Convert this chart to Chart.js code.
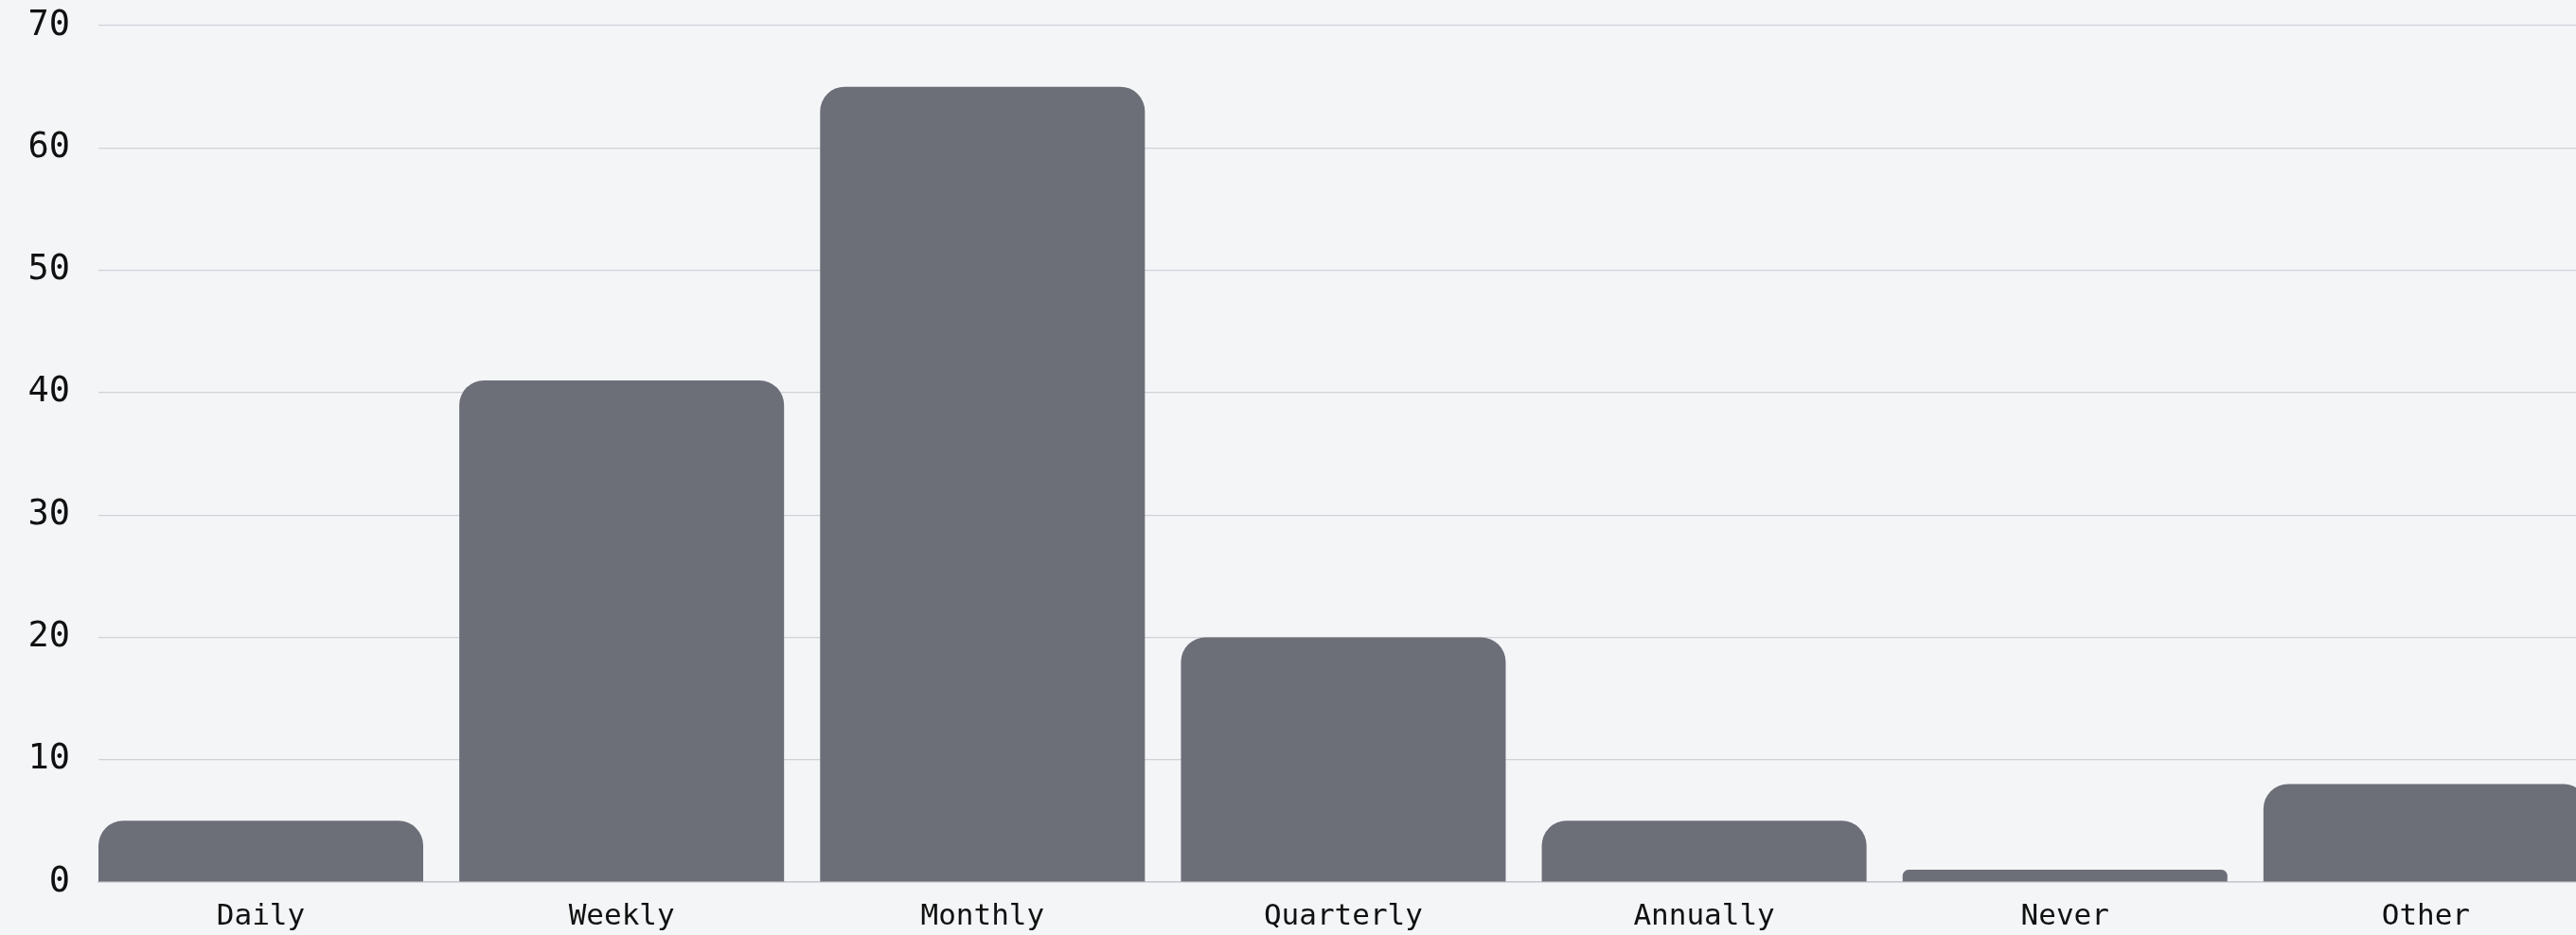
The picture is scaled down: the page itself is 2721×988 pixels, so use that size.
<!DOCTYPE html>
<html>
<head>
<meta charset="utf-8">
<script src="https://cdn.jsdelivr.net/npm/chart.js@4/dist/chart.umd.min.js"></script>
<style>
  html, body { margin: 0; padding: 0; background: #f4f5f7; overflow: hidden; }
  #wrap { position: relative; width: 2772px; height: 988px; }
</style>
</head>
<body>
<div id="wrap"><canvas id="c"></canvas></div>
<script>
const categories = ["Daily", "Weekly", "Monthly", "Quarterly", "Annually", "Never", "Other"];
const counts = [5, 41, 65, 20, 5, 1, 8];
const yTicks = [0, 10, 20, 30, 40, 50, 60, 70];

const points = counts.map((v, i) => ({ x: i, y: v }));

new Chart(document.getElementById('c'), {
  type: 'bar',
  data: {
    datasets: [{
      data: points,
      backgroundColor: '#6c6e78',
      borderRadius: 26,
      borderSkipped: 'start',
      barPercentage: 0.9,
      categoryPercentage: 1.0
    }]
  },
  options: {
    responsive: true,
    maintainAspectRatio: false,
    animation: false,
    layout: { padding: { top: 27, left: 0, right: 0, bottom: 0 } },
    plugins: { legend: { display: false }, tooltip: { enabled: false } },
    scales: {
      x: {
        type: 'linear',
        offset: false,
        min: -0.45,
        max: 6.55,
        afterBuildTicks: (axis) => { axis.ticks = categories.map((_, i) => ({ value: i })); },
        grid: { display: false, drawTicks: false, offset: false },
        border: { display: true, color: '#c6c8cd', width: 1.5 },
        ticks: {
          autoSkip: false,
          maxRotation: 0,
          padding: 18,
          color: '#111111',
          font: { family: 'DejaVu Sans Mono', size: 31 },
          callback: (v) => categories[v]
        },
        afterFit: (axis) => { axis.height = 56; axis.paddingLeft = 0; axis.paddingRight = 0; }
      },
      y: {
        min: yTicks[0],
        max: yTicks[yTicks.length - 1],
        afterBuildTicks: (axis) => { axis.ticks = yTicks.map(v => ({ value: v })); },
        grid: { color: '#d0d2d7', lineWidth: 1.2, drawTicks: false },
        border: { display: false },
        ticks: {
          padding: 30,
          color: '#111111',
          font: { family: 'DejaVu Sans Mono', size: 37 }
        },
        afterFit: (axis) => { axis.width = 104; axis.paddingTop = 0; axis.paddingBottom = 0; }
      }
    }
  }
});
</script>
</body>
</html>
